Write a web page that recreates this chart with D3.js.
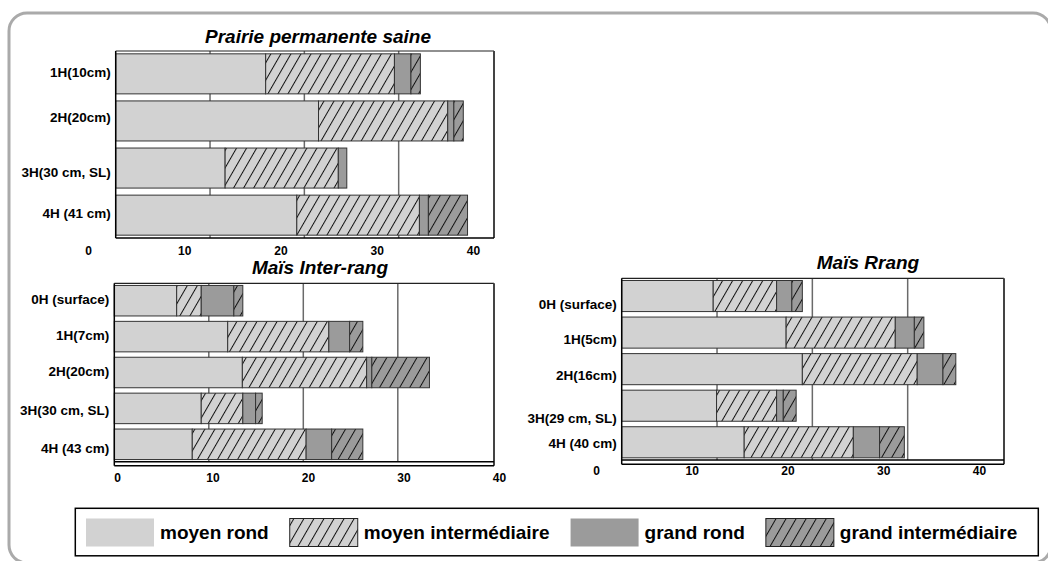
<!DOCTYPE html>
<html><head><meta charset="utf-8">
<script src="https://cdn.jsdelivr.net/npm/d3@7"></script>
<style>html,body{margin:0;padding:0;background:#fff}svg{display:block}</style>
</head><body><div id="chart"></div>
<script>
// ---------------- data ----------------
const seriesKeys = ["moyenRond", "moyenInter", "grandRond", "grandInter"];
const seriesLabels = ["moyen rond", "moyen intermédiaire", "grand rond", "grand intermédiaire"];
const tickValues = [0, 10, 20, 30, 40];

const prairieTitle = "Prairie permanente saine";
const prairieCats = ["1H(10cm)", "2H(20cm)", "3H(30 cm, SL)", "4H (41 cm)"];
const prairieMoyenRond  = [15.9, 21.5, 11.6, 19.2];
const prairieMoyenInter = [13.65, 13.7, 12.0, 13.0];
const prairieGrandRond  = [1.75, 0.65, 0.9, 0.95];
const prairieGrandInter = [1.0, 1.0, 0, 4.15];

const interTitle = "Maïs Inter-rang";
const interCats = ["0H (surface)", "1H(7cm)", "2H(20cm)", "3H(30 cm, SL)", "4H (43 cm)"];
const interMoyenRond  = [6.6, 12.0, 13.55, 9.2, 8.25];
const interMoyenInter = [2.6, 10.7, 13.15, 4.4, 12.05];
const interGrandRond  = [3.45, 2.2, 0.55, 1.35, 2.7];
const interGrandInter = [0.95, 1.4, 6.1, 0.7, 3.3];

const rangTitle = "Maïs Rrang";
const rangCats = ["0H (surface)", "1H(5cm)", "2H(16cm)", "3H(29 cm, SL)", "4H (40 cm)"];
const rangMoyenRond  = [9.6, 17.25, 18.95, 9.95, 12.85];
const rangMoyenInter = [6.65, 11.45, 12.05, 6.3, 11.45];
const rangGrandRond  = [1.6, 2.0, 2.7, 0.7, 2.75];
const rangGrandInter = [1.1, 1.0, 1.35, 1.35, 2.6];

// ---------------- layout ----------------
const W = 1048, H = 561;
const FONT = "'Liberation Sans', Arial, Helvetica, sans-serif";
const fills = {moyenRond: "#d2d2d2", moyenInter: "url(#hatchLight)", grandRond: "#9b9b9b", grandInter: "url(#hatchDark)"};

function table(cats, a, b, c, d) {
  return cats.map((cat, i) => ({cat, moyenRond: a[i], moyenInter: b[i], grandRond: c[i], grandInter: d[i]}));
}

const panels = [
  {title: prairieTitle, rows: table(prairieCats, prairieMoyenRond, prairieMoyenInter, prairieGrandRond, prairieGrandInter),
   x0: 115.7, x40: 493, right: 494, top: 51, bottom: 238, base2: null,
   lab0: 88, lab40: 473, labY: 255, titleX: 318, titleY: 43, nudge: [-1.5, -3, 5, -1.5]},
  {title: interTitle, rows: table(interCats, interMoyenRond, interMoyenInter, interGrandRond, interGrandInter),
   x0: 114.3, x40: 492.3, right: 494, top: 283.3, bottom: 461.7, base2: 465.7,
   lab0: 117, lab40: 499, labY: 481.5, titleX: 320, titleY: 274, nudge: [-1, -1, -1, 2, 4]},
  {title: rangTitle, rows: table(rangCats, rangMoyenRond, rangMoyenInter, rangGrandRond, rangGrandInter),
   x0: 621.7, x40: 1003, right: 1004, top: 278.3, bottom: 460, base2: 464.3,
   lab0: 596, lab40: 979, labY: 475, titleX: 868, titleY: 269, nudge: [8.5, 7, 6.5, 12.5, 1.5]}
];

const svg = d3.select("#chart").append("svg").attr("width", W).attr("height", H)
  .style("font-family", FONT);
svg.append("rect").attr("width", W).attr("height", H).attr("fill", "#fff");

// patterns
const defs = svg.append("defs");
function hatch(id, bg) {
  const s = 8.7;
  const p = defs.append("pattern").attr("id", id).attr("patternUnits", "userSpaceOnUse")
    .attr("width", s).attr("height", s).attr("patternTransform", "rotate(30)");
  p.append("rect").attr("width", s).attr("height", s).attr("fill", bg);
  p.append("line").attr("x1", 0.5).attr("y1", 0).attr("x2", 0.5).attr("y2", s)
    .attr("stroke", "#111").attr("stroke-width", 1);
}
hatch("hatchLight", "#d2d2d2");
hatch("hatchDark", "#9b9b9b");

// outer rounded border
svg.append("rect").attr("x", 9).attr("y", 13).attr("width", 1042).attr("height", 550)
  .attr("rx", 18).attr("fill", "none").attr("stroke", "#aaaaaa").attr("stroke-width", 3);

const stack = d3.stack().keys(seriesKeys);

panels.forEach(pn => {
  const g = svg.append("g");
  const x = d3.scaleLinear().domain([0, 40]).range([pn.x0, pn.x40]);
  const y = d3.scaleBand().domain(pn.rows.map(d => d.cat)).range([pn.top, pn.bottom])
    .paddingInner(0.15).paddingOuter(0.06);

  // gridlines
  g.append("g").selectAll("line").data([10, 20, 30]).join("line")
    .attr("x1", d => x(d)).attr("x2", d => x(d))
    .attr("y1", pn.top).attr("y2", pn.bottom)
    .attr("stroke", "#6a6a6a").attr("stroke-width", 1.5);

  // bars
  const layers = stack(pn.rows);
  g.append("g").selectAll("g").data(layers).join("g")
    .attr("fill", d => fills[d.key])
    .selectAll("rect").data(d => d.filter(s => s[1] - s[0] > 0)).join("rect")
    .attr("x", d => x(d[0])).attr("width", d => x(d[1]) - x(d[0]))
    .attr("y", d => y(d.data.cat)).attr("height", y.bandwidth())
    .attr("stroke", "#333").attr("stroke-width", 1);

  // frame
  const fr = g.append("g").attr("fill", "none");
  fr.append("line").attr("x1", pn.x0).attr("x2", pn.right).attr("y1", pn.top).attr("y2", pn.top)
    .attr("stroke", "#222").attr("stroke-width", 1.2);
  fr.append("line").attr("x1", pn.x0).attr("x2", pn.x0).attr("y1", pn.top).attr("y2", pn.base2 || pn.bottom)
    .attr("stroke", "#000").attr("stroke-width", 1.5);
  fr.append("line").attr("x1", pn.right).attr("x2", pn.right).attr("y1", pn.top).attr("y2", pn.base2 || pn.bottom)
    .attr("stroke", "#444").attr("stroke-width", 2);
  fr.append("line").attr("x1", pn.x0).attr("x2", pn.right).attr("y1", pn.bottom).attr("y2", pn.bottom)
    .attr("stroke", "#000").attr("stroke-width", 1.5);
  if (pn.base2) {
    fr.append("line").attr("x1", pn.x0).attr("x2", pn.right).attr("y1", pn.base2).attr("y2", pn.base2)
      .attr("stroke", "#000").attr("stroke-width", 1.5);
  }

  // y axis labels
  const ya = g.append("g").attr("transform", `translate(${pn.x0 - 2},0)`)
    .call(d3.axisLeft(y).tickSize(0).tickPadding(3));
  ya.select(".domain").remove();
  ya.selectAll("text").attr("font-family", FONT).attr("font-size", 13.5).attr("font-weight", "bold")
    .attr("fill", "#000")
    .attr("transform", (d, i) => `translate(0,${pn.nudge[i]})`);

  // x tick labels (offset axis as in the original)
  const lab = d3.scaleLinear().domain([0, 40]).range([pn.lab0, pn.lab40]);
  const xa = g.append("g").attr("transform", `translate(0,${pn.labY})`)
    .call(d3.axisBottom(lab).tickValues(tickValues).tickSize(0).tickFormat(d3.format("d")));
  xa.select(".domain").remove();
  xa.selectAll("text").attr("y", 0).attr("dy", 0).attr("font-family", FONT)
    .attr("font-size", 12).attr("font-weight", "bold").attr("fill", "#000");

  // title
  g.append("text").attr("x", pn.titleX).attr("y", pn.titleY).attr("text-anchor", "middle")
    .attr("font-size", 19).attr("font-weight", "bold").attr("font-style", "italic")
    .attr("fill", "#000").text(pn.title);
});

// legend
const lg = svg.append("g");
lg.append("rect").attr("x", 75.3).attr("y", 508.3).attr("width", 963).attr("height", 47.5)
  .attr("fill", "#fff").attr("stroke", "#000").attr("stroke-width", 1.5);
let lx = 86;
seriesKeys.forEach((k, i) => {
  const hatched = k === "moyenInter" || k === "grandInter";
  lg.append("rect").attr("x", lx).attr("y", 518.5).attr("width", 68).attr("height", 28)
    .attr("fill", fills[k]).attr("stroke", hatched ? "#222" : "none").attr("stroke-width", 1);
  const t = lg.append("text").attr("x", lx + 74).attr("y", 539)
    .attr("font-size", 19).attr("font-weight", "bold").attr("fill", "#000").text(seriesLabels[i]);
  lx = lx + 74 + t.node().getComputedTextLength() + 21;
});
</script></body></html>
